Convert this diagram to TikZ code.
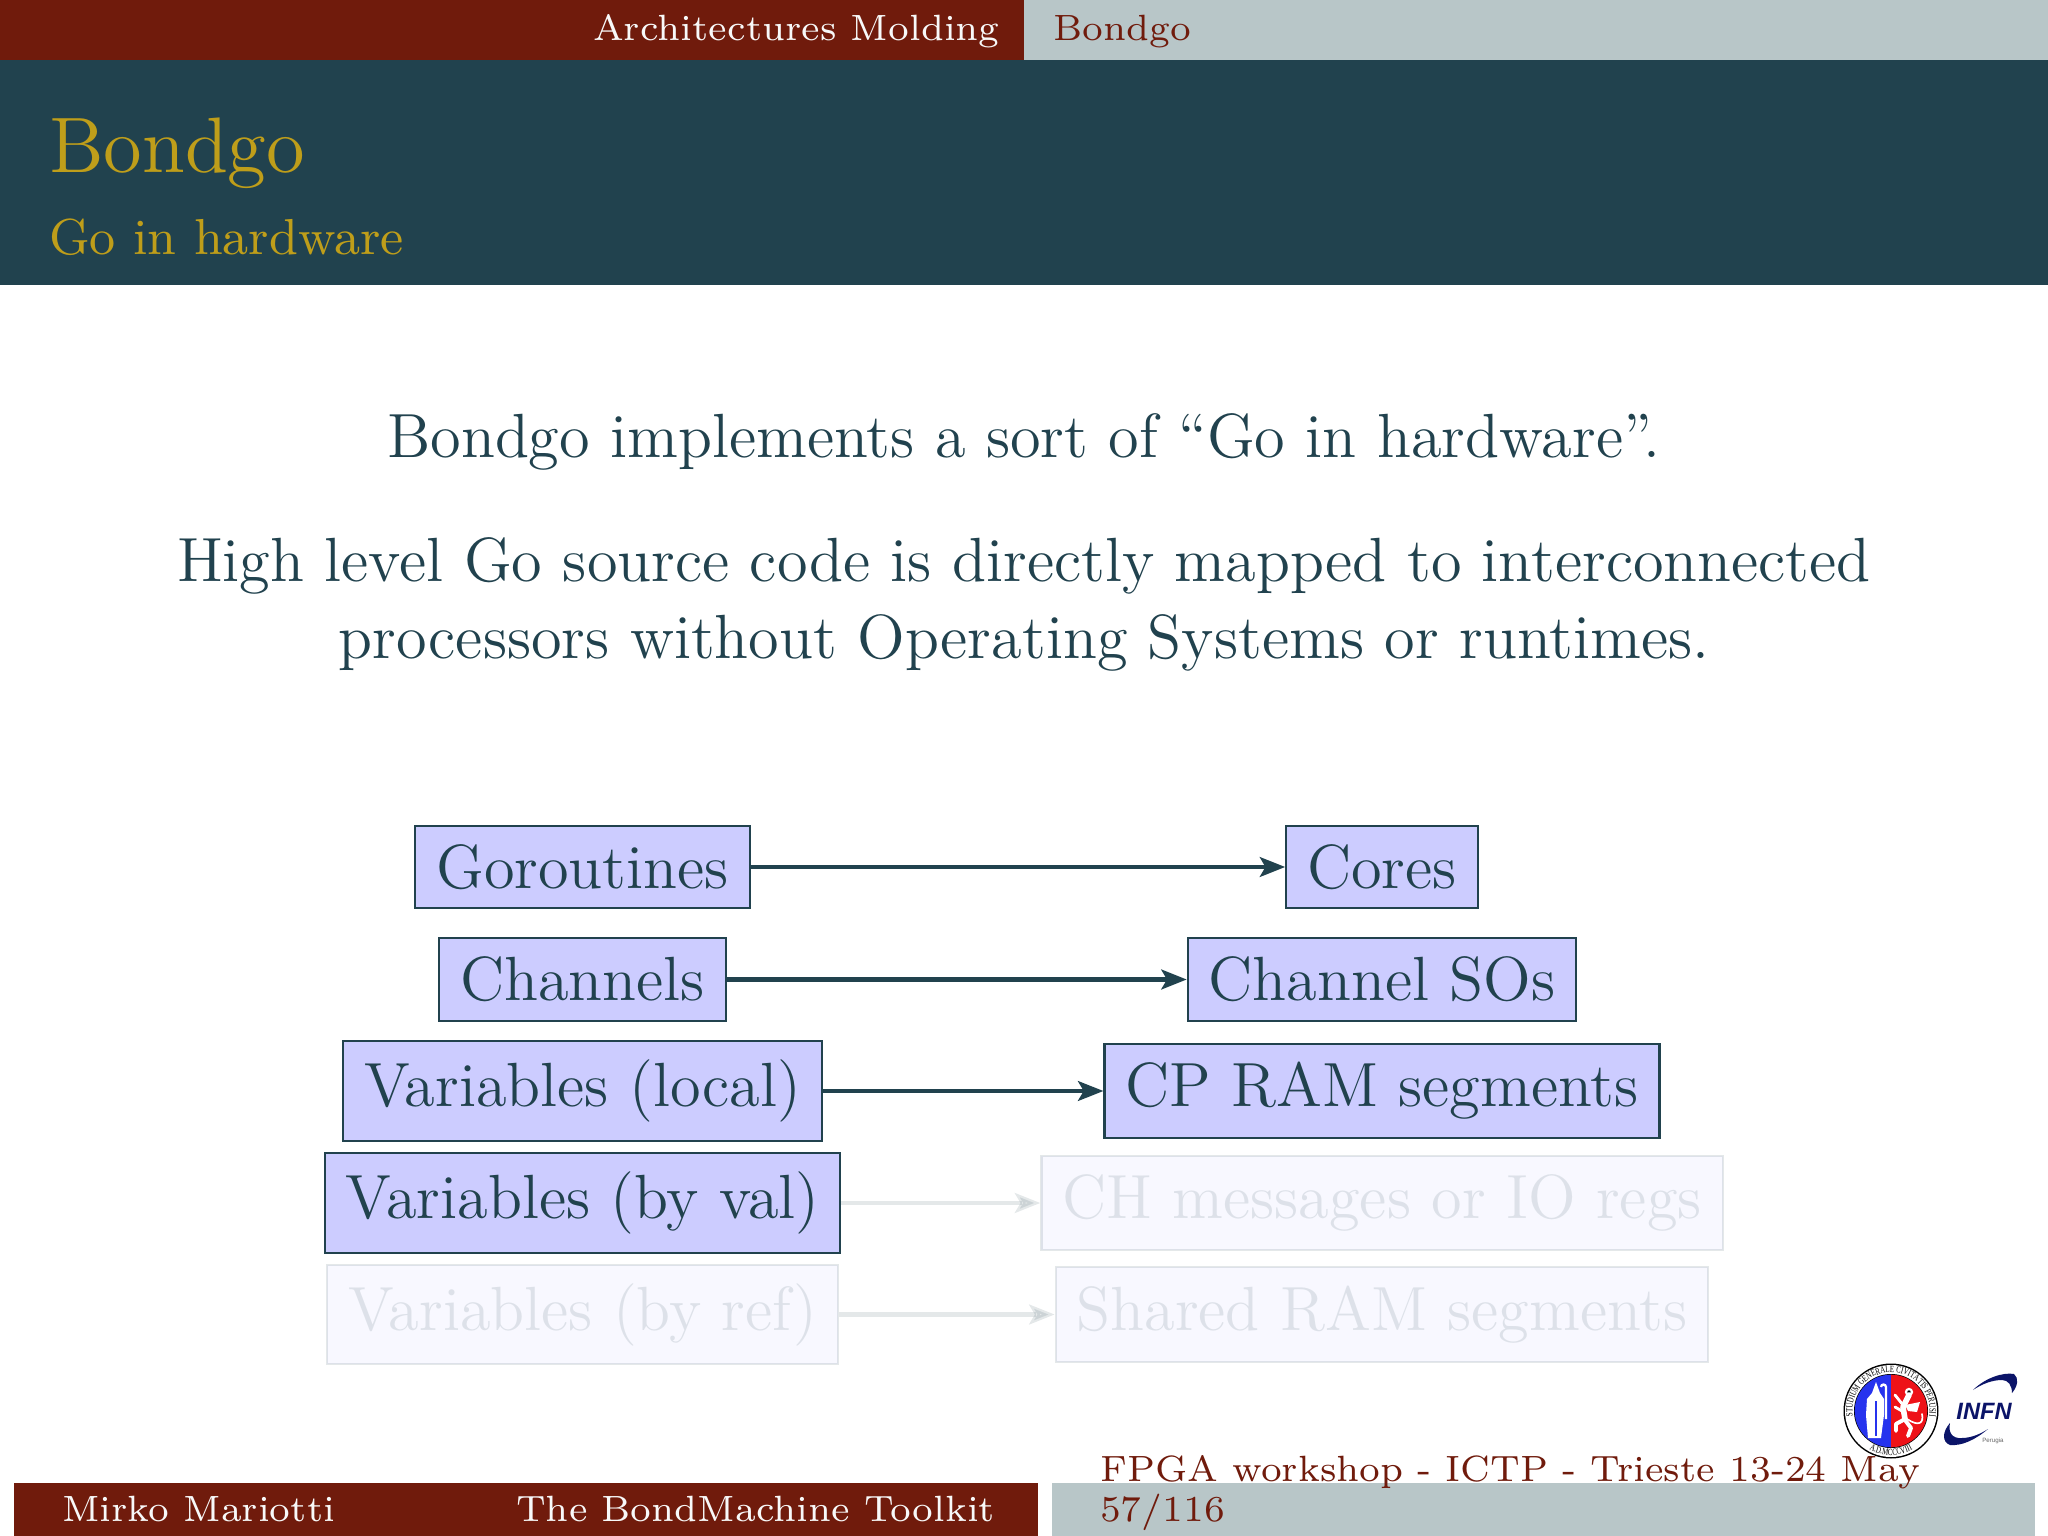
\documentclass[tikz,border=0pt]{standalone}
\usepackage{fontspec}
\usepackage{xcolor}
\usetikzlibrary{arrows.meta,decorations.text}
\newfontfamily\logofont{Liberation Sans}
\newfontfamily\sealfont[FakeStretch=0.72]{Liberation Serif}
\definecolor{barred}{HTML}{701B0C}
\definecolor{barteal}{HTML}{21424E}
\definecolor{bargrey}{HTML}{B8C6C8}
\definecolor{titlegold}{HTML}{BF9E1A}
\definecolor{logoblue}{HTML}{2633EE}
\definecolor{logored}{HTML}{EE1218}
\definecolor{logonavy}{HTML}{0B1468}
\tikzset{
  barlabel/.style={anchor=base west, inner sep=0pt, font=\fontsize{6.5}{8}\selectfont},
  bodytext/.style={anchor=base, inner sep=0pt, text=barteal, font=\fontsize{11.1}{13}\selectfont},
  mapbox/.style={draw=barteal, fill=blue!20, text=barteal, line width=0.4pt, inner xsep=3.7pt, inner ysep=3.3pt, font=\fontsize{11.1}{13}\selectfont},
  mapedge/.style={draw=barteal, line width=0.8pt, -{Stealth[length=4.5pt,width=3.5pt,inset=1pt]}},
  faded/.style={opacity=0.12},
  griffin/.style={draw=white, line cap=round, line join=round}
}
\begin{document}
\begin{tikzpicture}[x=0.0625mm, y=0.0625mm]
  \useasboundingbox (0,-1536) rectangle (2048,0);
  \fill[white] (0,-1536) rectangle (2048,0);
  \fill[barred] (0,0) rectangle (1024,-60);
  \fill[bargrey] (1024,0) rectangle (2048,-60);
  \fill[barteal] (0,-60) rectangle (2048,-285);
  \fill[barred] (14,-1483) rectangle (1038,-1536);
  \fill[bargrey] (1052,-1483) rectangle (2035,-1536);

  \node[barlabel, text=white!90!bargrey] (section) at (592,-40) {Architectures Molding};
  \node[barlabel, text=barred] (subsection) at (1052,-40) {Bondgo};
  \node[anchor=base west, inner sep=0pt, text=titlegold, font=\fontsize{14}{17}\selectfont] (title) at (48,-173) {Bondgo};
  \node[anchor=base west, inner sep=0pt, text=titlegold, font=\fontsize{9}{11}\selectfont] (subtitle) at (48,-254) {Go in hardware};

  \node[bodytext] (line1) at (1024,-457) {Bondgo implements a sort of ``Go in hardware''.};
  \node[bodytext] (line2) at (1024,-581) {High level Go source code is directly mapped to interconnected};
  \node[bodytext] (line3) at (1024,-658) {processors without Operating Systems or runtimes.};

  \node[mapbox] (gor) at (582.5,-867) {Goroutines};
  \node[mapbox] (cor) at (1382,-867) {Cores};
  \node[mapbox] (chn) at (582.5,-979.5) {Channels};
  \node[mapbox] (chs) at (1382,-979.5) {Channel SOs};
  \node[mapbox] (vlo) at (582.5,-1091) {Variables (local)};
  \node[mapbox] (ram) at (1382,-1091) {CP RAM segments};
  \node[mapbox] (vva) at (582.5,-1203) {Variables (by val)};
  \node[mapbox, faded] (msg) at (1382,-1203) {CH messages or IO regs};
  \node[mapbox, faded] (vre) at (582.5,-1314.5) {Variables (by ref)};
  \node[mapbox, faded] (shr) at (1382,-1314.5) {Shared RAM segments};

  \draw[mapedge] (gor) -- (cor);
  \draw[mapedge] (chn) -- (chs);
  \draw[mapedge] (vlo) -- (ram);
  \draw[mapedge, faded] (vva) -- (msg);
  \draw[mapedge, faded] (vre) -- (shr);

  \node[barlabel, text=white!90!bargrey] (author) at (61,-1521) {Mirko Mariotti};
  \node[barlabel, text=white!90!bargrey] (talk) at (515,-1521) {The BondMachine Toolkit};
  \node[barlabel, text=barred] (event) at (1099,-1481) {FPGA workshop - ICTP - Trieste 13-24 May};
  \node[barlabel, text=barred] (page) at (1099,-1521) {57/116};

  \begin{scope}[shift={(1891,-1411)}]
    \fill[black] (0,0) circle (47.5);
    \fill[white] (0,0) circle (46);
    \fill[black] (0,0) circle (37);
    \fill[logoblue] (0,36.3) arc (90:270:36.3) -- cycle;
    \fill[logored] (0,36.3) arc (90:-90:36.3) -- cycle;
    \fill[white] (-15,29) -- (-11,18) -- (-7,12) -- (-7,-4) -- (-10,-27) -- (-23,-27) -- (-25,-4) -- (-24,12) -- (-19,18) -- cycle;
    \draw[logoblue, line width=0.3pt] (-15,10) -- (-15,-25);
    \draw[white, line width=0.4pt] (-5,-8) -- (-5,24) arc (0:180:2.5);
    \fill[griffin] (18,19) circle (3);
    \fill[white] (14,6) -- (29,9) -- (26,-1) -- (17,0) -- cycle;
    \draw[griffin, line width=1pt] (18,16) -- (12,4) -- (14,-8);
    \draw[griffin, line width=0.7pt] (14,-8) -- (5,-13) -- (5,-20);
    \draw[griffin, line width=0.7pt] (14,-9) -- (20,-17) -- (17,-25);
    \draw[griffin, line width=0.5pt] (12,6) -- (4,16);
    \draw[griffin, line width=0.5pt] (11,0) -- (4,4);
    \draw[griffin, line width=0.3pt] (16,-8) .. controls (28,-16) and (33,-12) .. (31,-3);
    \path[decorate, decoration={text along path, text align=center, text={|\sealfont\fontsize{1.7}{2}\selectfont|STUDIUM GENERALE CIVITATIS PERUSII}}] (207:38.7) arc (207:-27:38.7);
    \path[decorate, decoration={text along path, text align=center, text={|\sealfont\fontsize{1.7}{2}\selectfont|A.D.MCCCVIII}}] (240:44.3) arc (240:300:44.3);
  \end{scope}

  \fill[logonavy] (1973,-1390) .. controls (1985,-1378) and (2003,-1372) .. (2014,-1374) .. controls (2019,-1378) and (2018,-1386) .. (2012,-1393) .. controls (2012,-1385) and (2008,-1380) .. (2002,-1380) .. controls (1992,-1380) and (1982,-1384) .. cycle;
  \fill[logonavy] (1988,-1429) .. controls (1975,-1440) and (1962,-1446) .. (1950,-1445) .. controls (1942,-1442) and (1942,-1432) .. (1950,-1423) .. controls (1948,-1432) and (1952,-1439) .. (1962,-1438) .. controls (1972,-1438) and (1982,-1433) .. cycle;
  \node[inner sep=0pt, text=logonavy, font=\logofont\bfseries\itshape\fontsize{4.2}{5}\selectfont] (infn) at (1984,-1411) {INFN};
  \node[inner sep=0pt, text=black!60, font=\logofont\fontsize{1.1}{1.3}\selectfont] (perugia) at (1993,-1441) {Perugia};
\end{tikzpicture}
\end{document}
